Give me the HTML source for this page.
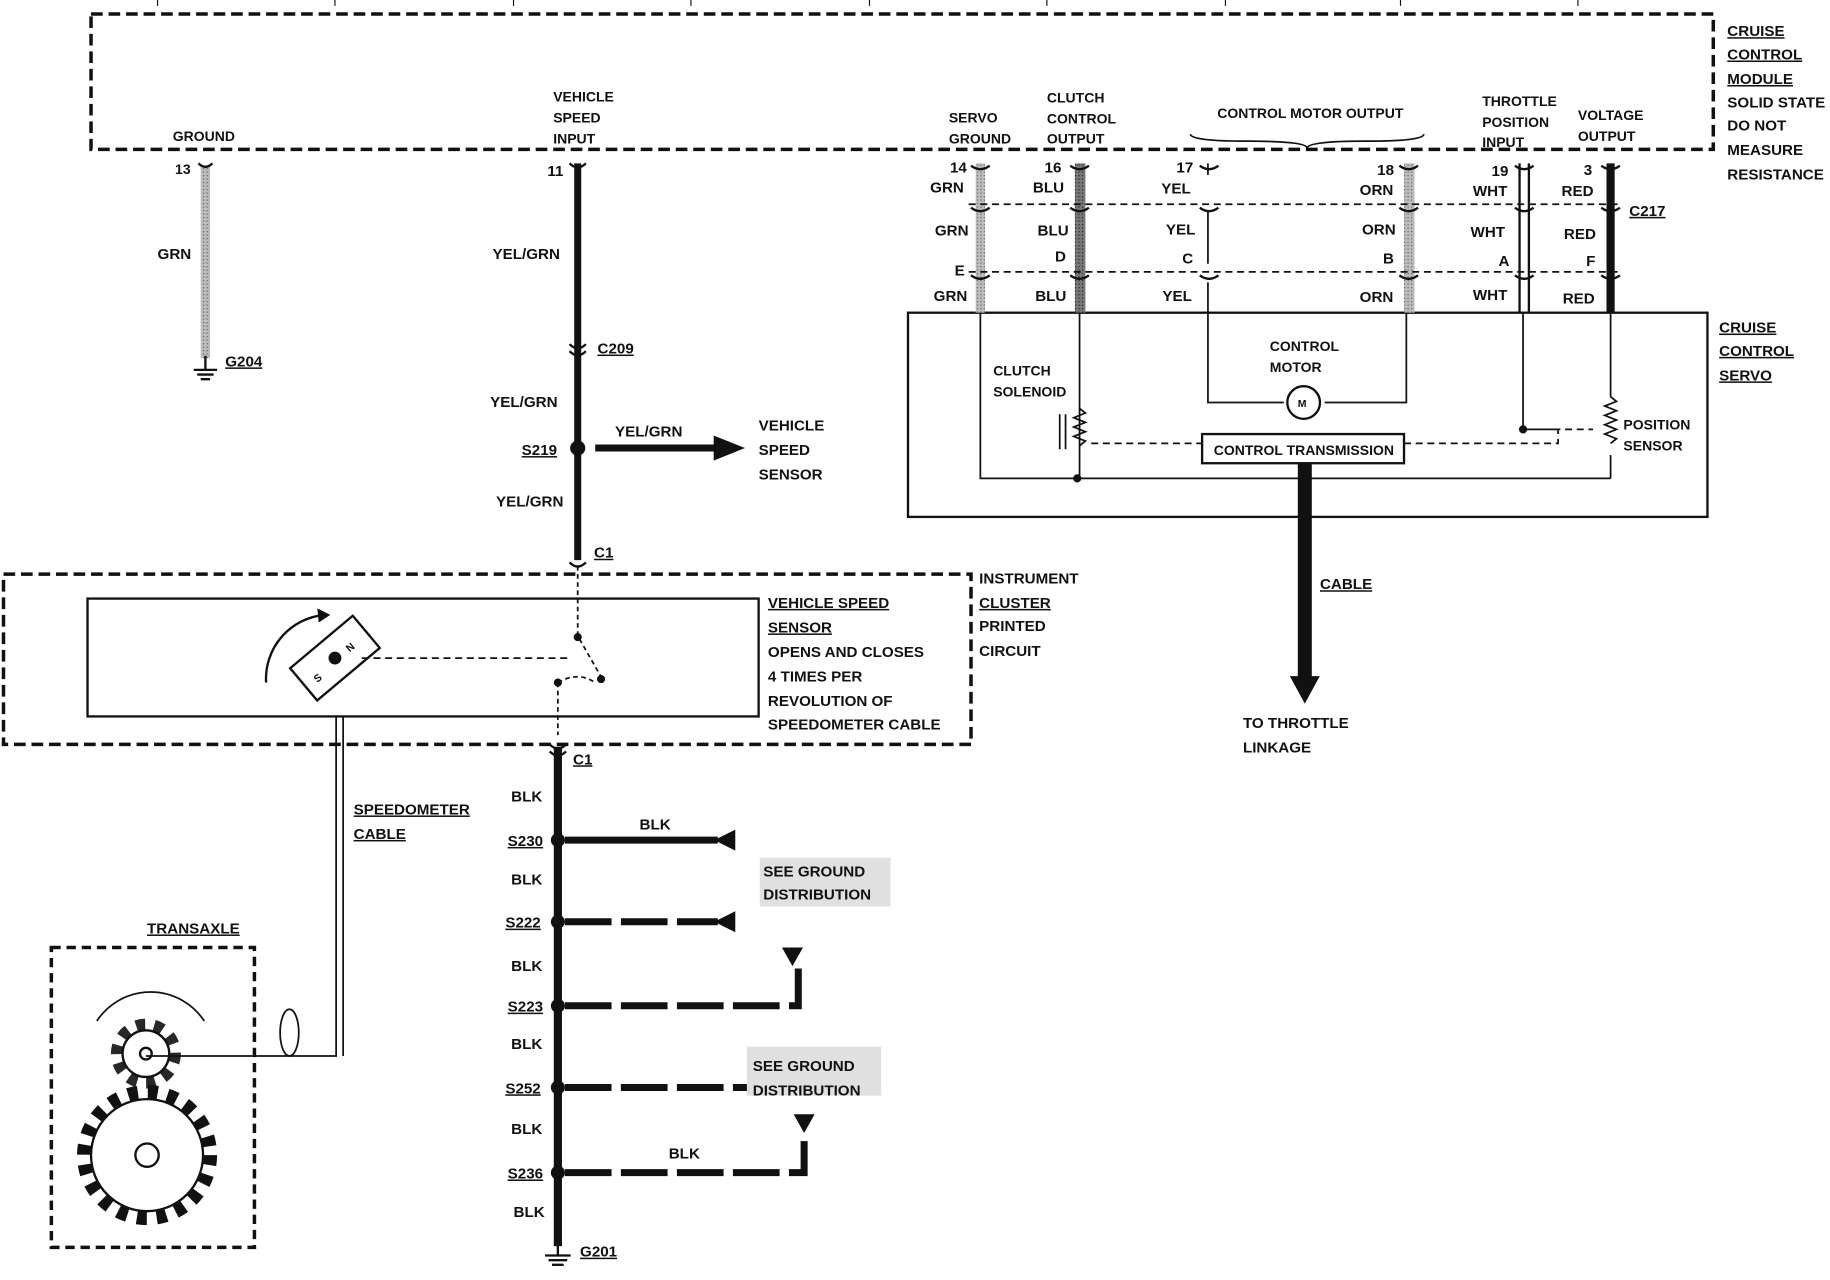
<!DOCTYPE html>
<html><head><style>
html,body{margin:0;padding:0;background:#fff;}
svg{display:block;}
text{font-family:"Liberation Sans",sans-serif;font-weight:bold;font-size:13px;fill:#111;}
.s{font-size:12px;}
</style></head><body>
<svg width="1830" height="1280" viewBox="0 0 1568 1097" preserveAspectRatio="none" xmlns="http://www.w3.org/2000/svg">
<defs>
<pattern id="st" width="3" height="3" patternUnits="userSpaceOnUse"><rect width="3" height="3" fill="#bbb"/><rect width="1" height="1" fill="#666"/></pattern>
<pattern id="st2" width="3" height="3" patternUnits="userSpaceOnUse"><rect width="3" height="3" fill="#777"/><rect width="1" height="1" fill="#222"/></pattern>
</defs>
<g stroke="#111" fill="none">
<path d="M135 0v5M287 0v5M440 0v5M592 0v5M745 0v5M897 0v5M1050 0v5M1200 0v5M1352 0v5" stroke-width="1"/>
<rect x="78" y="12" width="1390" height="116" stroke-width="3" stroke-dasharray="10,5"/>
<rect x="172" y="142" width="8" height="165" fill="url(#st)" stroke="none"/>
<path d="M170 140 q6 6 12 0" stroke-width="2"/>
<path d="M176 305v12M166 317h20M169 321h14M172 325h8" stroke-width="2"/>
<path d="M495 140V480" stroke-width="6"/>
<path d="M488 140 q7 7 14 0M488 295 q7 7 14 0M488 301 q7 7 14 0M488 482 q7 7 14 0" stroke-width="2"/>
<path d="M510 384H615" stroke-width="6"/>
<path d="M612 374 L637 384 L612 394Z" fill="#111"/>
<circle cx="495" cy="384" r="6" fill="#111"/>
<rect x="3" y="492" width="829" height="146" stroke-width="3" stroke-dasharray="10,5"/>
<rect x="75" y="513" width="575" height="101" stroke-width="2"/>
<g transform="rotate(-40 287 564)"><rect x="252" y="546" width="70" height="36" stroke-width="2"/></g>
<circle cx="287" cy="564" r="5" fill="#111"/>
<path d="M228 585 A55 55 0 0 1 278 527" stroke-width="2"/>
<path d="M272 522l10 5-9 6" fill="#111"/>
<path d="M310 564H490" stroke-width="1.5" stroke-dasharray="6,4"/>
<path d="M495 485V545l20 35" stroke-width="1.5" stroke-dasharray="4,3"/>
<circle cx="495" cy="546" r="3" fill="#111"/><circle cx="515" cy="582" r="3" fill="#111"/><circle cx="478" cy="585" r="3" fill="#111"/>
<path d="M478 585Q495 575 510 585M478 585V630" stroke-width="1.5" stroke-dasharray="4,3"/>
<path d="M288 614V905H125M294 614V905" stroke-width="1.5"/>
<ellipse cx="248" cy="885" rx="8" ry="20" stroke-width="1.5"/>
<rect x="44" y="812" width="174" height="257" stroke-width="3" stroke-dasharray="8,5"/>
<circle cx="125" cy="903" r="20" stroke-width="2"/>
<circle cx="125" cy="903" r="25" stroke-width="10" stroke-dasharray="7.8,7.8" stroke-opacity="0.9"/>
<circle cx="125" cy="903" r="5" stroke-width="2"/>
<circle cx="126" cy="990" r="48" stroke-width="2"/>
<circle cx="126" cy="990" r="54" stroke-width="12" stroke-dasharray="8.5,8.5"/>
<circle cx="126" cy="990" r="10" stroke-width="2"/>
<path d="M83 875A55 55 0 0 1 175 875" stroke-width="1.5"/>
<path d="M478 640V1068" stroke-width="7"/>
<path d="M471 638 q7 7 14 0M471 644 q7 7 14 0" stroke-width="2"/>
<path d="M478 1066v10M467 1076h22M470 1080h16M473 1084h10" stroke-width="2"/>
<g fill="#111" stroke="none">
<circle cx="478" cy="720" r="6"/><circle cx="478" cy="790" r="6"/><circle cx="478" cy="862" r="6"/><circle cx="478" cy="932" r="6"/><circle cx="478" cy="1005" r="6"/>
<path d="M612 720l18-9v18Z"/><path d="M612 790l18-9v18Z"/>
<path d="M670 812h18l-9 16Z"/><path d="M680 955h18l-9 16Z"/>
</g>
<path d="M484 720H615" stroke-width="6"/>
<path d="M484 790H615M484 862H684V830M484 932H640M484 1005H689V970" stroke-width="6" stroke-dasharray="40,8"/>
<rect x="778" y="268" width="685" height="175" stroke-width="2"/>
<rect x="836" y="140" width="8" height="128" fill="url(#st)" stroke="none"/>
<rect x="921" y="140" width="9" height="128" fill="url(#st2)" stroke="none"/>
<rect x="1203" y="140" width="9" height="128" fill="url(#st)" stroke="none"/>
<path d="M1302 140V268M1310 140V268" stroke-width="2"/>
<path d="M1380 140V268" stroke-width="7"/>
<path d="M1035 140V150M1035 180V226M1035 242V268" stroke-width="1.5"/>
<path d="M830 175H1390M830 233H1390" stroke-width="1.5" stroke-dasharray="6,4"/>
<g stroke-width="2">
<path d="M832 142q8 6 16 0M917 142q8 6 16 0M1028 142q8 6 16 0M1199 142q8 6 16 0M1298 142q8 6 16 0M1372 142q8 6 16 0"/>
<path d="M832 178q8 6 16 0M917 178q8 6 16 0M1028 178q8 6 16 0M1199 178q8 6 16 0M1298 178q8 6 16 0M1372 178q8 6 16 0"/>
<path d="M832 236q8 6 16 0M917 236q8 6 16 0M1028 236q8 6 16 0M1199 236q8 6 16 0M1298 236q8 6 16 0M1372 236q8 6 16 0"/>
</g>
<path d="M840 268V410H1380M925 268V410M1035 268V345H1100M1135 345H1205V268M1305 268V368M1380 268V340M1380 390V410" stroke-width="1.5"/>
<path d="M1380 340l5 4-10 4 10 4-10 4 10 4-10 4 10 4-10 4 10 4-5 4" stroke-width="1.5"/>
<path d="M925 350l5 4-10 4 10 4-10 4 10 4-10 4 10 4-5 4" stroke-width="1.5"/>
<path d="M908 355v30M913 355v30" stroke-width="1.5"/>
<circle cx="1117" cy="345" r="14" stroke-width="2"/>
<rect x="1030" y="372" width="173" height="25" stroke-width="2" fill="#fff"/>
<path d="M935 380H1030M1203 380H1335V368H1365" stroke-width="1.5" stroke-dasharray="6,4"/>
<circle cx="923" cy="410" r="3" fill="#111"/><circle cx="1305" cy="368" r="3" fill="#111"/>
<path d="M1305 368H1335" stroke-width="1.5"/>
<path d="M1118 397V585" stroke-width="12"/>
<path d="M1106 580h24l-12 22Z" fill="#111"/>
<path d="M1020 115q0 6 50 6q50 0 50 6q0-6 50-6q50 0 50-6" stroke-width="1.5"/>
</g>
<rect x="651" y="735" width="112" height="42" fill="#ccc" opacity="0.6"/>
<rect x="640" y="897" width="115" height="42" fill="#ccc" opacity="0.6"/>
<text x="270" y="586" style="font-size:9px" transform="rotate(-40 270 583)">S</text>
<text x="297" y="558" style="font-size:9px" transform="rotate(-40 300 555)">N</text>
<text x="148" y="121" class="s">GROUND</text>
<text x="150" y="149" class="s">13</text>
<text x="135" y="222">GRN</text>
<text x="193" y="314" text-decoration="underline">G204</text>
<text x="474" y="87" class="s">VEHICLE</text><text x="474" y="105" class="s">SPEED</text><text x="474" y="123" class="s">INPUT</text>
<text x="469" y="151">11</text>
<text x="422" y="222">YEL/GRN</text>
<text x="512" y="303" text-decoration="underline">C209</text>
<text x="420" y="349">YEL/GRN</text>
<text x="447" y="390" text-decoration="underline">S219</text>
<text x="527" y="374">YEL/GRN</text>
<text x="650" y="369">VEHICLE</text><text x="650" y="390">SPEED</text><text x="650" y="411">SENSOR</text>
<text x="425" y="434">YEL/GRN</text>
<text x="509" y="478" text-decoration="underline">C1</text>
<text x="839" y="500">INSTRUMENT</text><text x="839" y="521" text-decoration="underline">CLUSTER</text><text x="839" y="541">PRINTED</text><text x="839" y="562">CIRCUIT</text>
<text x="658" y="521" text-decoration="underline">VEHICLE SPEED</text><text x="658" y="542" text-decoration="underline">SENSOR</text>
<text x="658" y="563">OPENS AND CLOSES</text><text x="658" y="584">4 TIMES PER</text><text x="658" y="605">REVOLUTION OF</text><text x="658" y="625">SPEEDOMETER CABLE</text>
<text x="491" y="655" text-decoration="underline">C1</text>
<text x="303" y="698" text-decoration="underline">SPEEDOMETER</text><text x="303" y="719" text-decoration="underline">CABLE</text>
<text x="126" y="800" text-decoration="underline">TRANSAXLE</text>
<text x="438" y="687">BLK</text><text x="435" y="725" text-decoration="underline">S230</text><text x="548" y="711">BLK</text>
<text x="438" y="758">BLK</text><text x="433" y="795" text-decoration="underline">S222</text>
<text x="438" y="832">BLK</text><text x="435" y="867" text-decoration="underline">S223</text>
<text x="438" y="899">BLK</text><text x="433" y="937" text-decoration="underline">S252</text>
<text x="438" y="972">BLK</text><text x="435" y="1010" text-decoration="underline">S236</text><text x="573" y="993">BLK</text>
<text x="440" y="1043">BLK</text><text x="497" y="1077" text-decoration="underline">G201</text>
<text x="654" y="751">SEE GROUND</text><text x="654" y="771">DISTRIBUTION</text>
<text x="645" y="918">SEE GROUND</text><text x="645" y="939">DISTRIBUTION</text>
<text x="1480" y="31" text-decoration="underline">CRUISE</text><text x="1480" y="51" text-decoration="underline">CONTROL</text><text x="1480" y="72" text-decoration="underline">MODULE</text>
<text x="1480" y="92">SOLID STATE</text><text x="1480" y="112">DO NOT</text><text x="1480" y="133">MEASURE</text><text x="1480" y="154">RESISTANCE</text>
<text x="813" y="105" class="s">SERVO</text><text x="813" y="123" class="s">GROUND</text>
<text x="897" y="88" class="s">CLUTCH</text><text x="897" y="106" class="s">CONTROL</text><text x="897" y="123" class="s">OUTPUT</text>
<text x="1043" y="101" class="s">CONTROL MOTOR OUTPUT</text>
<text x="1270" y="91" class="s">THROTTLE</text><text x="1270" y="109" class="s">POSITION</text><text x="1270" y="126" class="s">INPUT</text>
<text x="1352" y="103" class="s">VOLTAGE</text><text x="1352" y="121" class="s">OUTPUT</text>
<text x="814" y="148">14</text><text x="797" y="165">GRN</text><text x="895" y="148">16</text><text x="885" y="165">BLU</text>
<text x="1008" y="148">17</text><text x="995" y="166">YEL</text><text x="1180" y="150">18</text><text x="1165" y="167">ORN</text>
<text x="1278" y="151">19</text><text x="1262" y="168">WHT</text><text x="1357" y="150">3</text><text x="1338" y="168">RED</text>
<text x="1396" y="185" text-decoration="underline">C217</text>
<text x="801" y="202">GRN</text><text x="889" y="202">BLU</text><text x="999" y="201">YEL</text><text x="1167" y="201">ORN</text><text x="1260" y="203">WHT</text><text x="1340" y="205">RED</text>
<text x="818" y="236">E</text><text x="904" y="224">D</text><text x="1013" y="226">C</text><text x="1185" y="226">B</text><text x="1284" y="228">A</text><text x="1359" y="228">F</text>
<text x="800" y="258">GRN</text><text x="887" y="258">BLU</text><text x="996" y="258">YEL</text><text x="1165" y="259">ORN</text><text x="1262" y="257">WHT</text><text x="1339" y="260">RED</text>
<text x="1473" y="285" text-decoration="underline">CRUISE</text><text x="1473" y="305" text-decoration="underline">CONTROL</text><text x="1473" y="326" text-decoration="underline">SERVO</text>
<text x="851" y="322" class="s">CLUTCH</text><text x="851" y="340" class="s">SOLENOID</text>
<text x="1088" y="301" class="s">CONTROL</text><text x="1088" y="319" class="s">MOTOR</text>
<text x="1112" y="349" class="s" style="font-size:9px">M</text>
<text x="1040" y="390" class="s">CONTROL TRANSMISSION</text>
<text x="1391" y="368" class="s">POSITION</text><text x="1391" y="386" class="s">SENSOR</text>
<text x="1131" y="505" text-decoration="underline">CABLE</text>
<text x="1065" y="624">TO THROTTLE</text><text x="1065" y="645">LINKAGE</text>
</svg>
</body></html>
